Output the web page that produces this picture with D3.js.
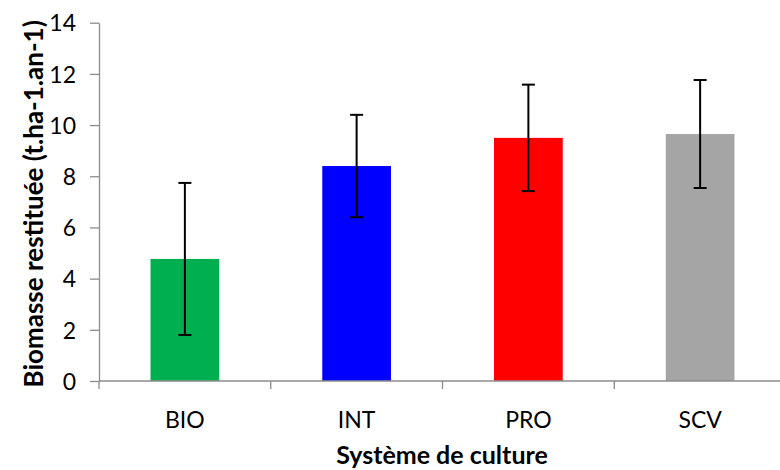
<!DOCTYPE html>
<html>
<head>
<meta charset="utf-8">
<script src="https://cdn.jsdelivr.net/npm/d3@7/dist/d3.min.js"></script>
<style>
  html, body { margin: 0; padding: 0; background: #fff; }
  svg text { font-family: Lato, "Open Sans", sans-serif; fill: #000; }
</style>
</head>
<body>
<svg id="chart" width="780" height="470"></svg>
<script>
// Biomasse restituée par système de culture (moyenne ± écart-type)
const systemes = ["BIO", "INT", "PRO", "SCV"];
const biomasse = [4.77, 8.40, 9.50, 9.65];
const ecartType = [2.97, 2.00, 2.08, 2.11];
const couleurs = ["#00B050", "#0000FF", "#FF0000", "#A5A5A5"];
const yTicks = [0, 2, 4, 6, 8, 10, 12, 14];

const svg = d3.select("#chart");
const margin = { left: 99, right: -6, top: 22.7, bottom: 89 };
const W = 780, H = 470;

const x = d3.scaleBand()
  .domain(systemes)
  .range([margin.left, W - margin.right])
  .paddingInner(0.6)
  .paddingOuter(0.3);

const y = d3.scaleLinear()
  .domain([0, 14])
  .range([H - margin.bottom, margin.top]);

const axisColor = "#8c8c8c";

// Bars
svg.append("g").selectAll("rect")
  .data(systemes)
  .join("rect")
  .attr("x", d => x(d))
  .attr("width", x.bandwidth())
  .attr("y", (d, i) => y(biomasse[i]))
  .attr("height", (d, i) => y(0) - y(biomasse[i]))
  .attr("fill", (d, i) => couleurs[i]);

// Y axis
const yAxis = svg.append("g")
  .attr("transform", `translate(${margin.left},0)`)
  .call(d3.axisLeft(y).tickValues(yTicks).tickSize(9).tickPadding(14).tickSizeOuter(0));
yAxis.select(".domain").attr("stroke", axisColor).attr("stroke-width", 1.3);
yAxis.selectAll(".tick line").attr("stroke", axisColor).attr("stroke-width", 1.3);
yAxis.selectAll(".tick text")
  .style("font-size", "23px")
  .attr("dy", "0.36em");

// X axis: baseline plus tick marks between categories
const step = x.step();
const x0 = x.range()[0];
const bounds = d3.range(systemes.length + 1).map(i => x0 + i * step);
const xAxis = svg.append("g");
xAxis.append("line")
  .attr("x1", x0).attr("x2", x.range()[1])
  .attr("y1", y(0)).attr("y2", y(0))
  .attr("stroke", axisColor).attr("stroke-width", 1.3);
xAxis.selectAll("line.tk")
  .data(bounds)
  .join("line")
  .attr("class", "tk")
  .attr("x1", d => d).attr("x2", d => d)
  .attr("y1", y(0)).attr("y2", y(0) + 8)
  .attr("stroke", axisColor).attr("stroke-width", 1.3);
xAxis.selectAll("text")
  .data(systemes)
  .join("text")
  .attr("x", d => x(d) + x.bandwidth() / 2)
  .attr("y", 428)
  .attr("text-anchor", "middle")
  .style("font-size", "23px")
  .text(d => d);

// Error bars
const cap = 6.5;
const err = svg.append("g").attr("stroke", "#000").attr("stroke-width", 2);
systemes.forEach((s, i) => {
  const cx = x(s) + x.bandwidth() / 2;
  const lo = y(biomasse[i] - ecartType[i]);
  const hi = y(biomasse[i] + ecartType[i]);
  err.append("line").attr("x1", cx).attr("x2", cx).attr("y1", lo).attr("y2", hi);
  err.append("line").attr("x1", cx - cap).attr("x2", cx + cap).attr("y1", lo).attr("y2", lo);
  err.append("line").attr("x1", cx - cap).attr("x2", cx + cap).attr("y1", hi).attr("y2", hi);
});

// Axis titles
svg.append("text")
  .attr("x", 442)
  .attr("y", 464)
  .attr("text-anchor", "middle")
  .style("font-size", "25px")
  .style("font-weight", "bold")
  .text("Système de culture");

svg.append("text")
  .attr("transform", `translate(43,${(y(0) + y(14)) / 2 + 2}) rotate(-90)`)
  .attr("text-anchor", "middle")
  .style("font-size", "26px")
  .style("font-weight", "bold")
  .text("Biomasse restituée (t.ha-1.an-1)");
</script>
</body>
</html>
